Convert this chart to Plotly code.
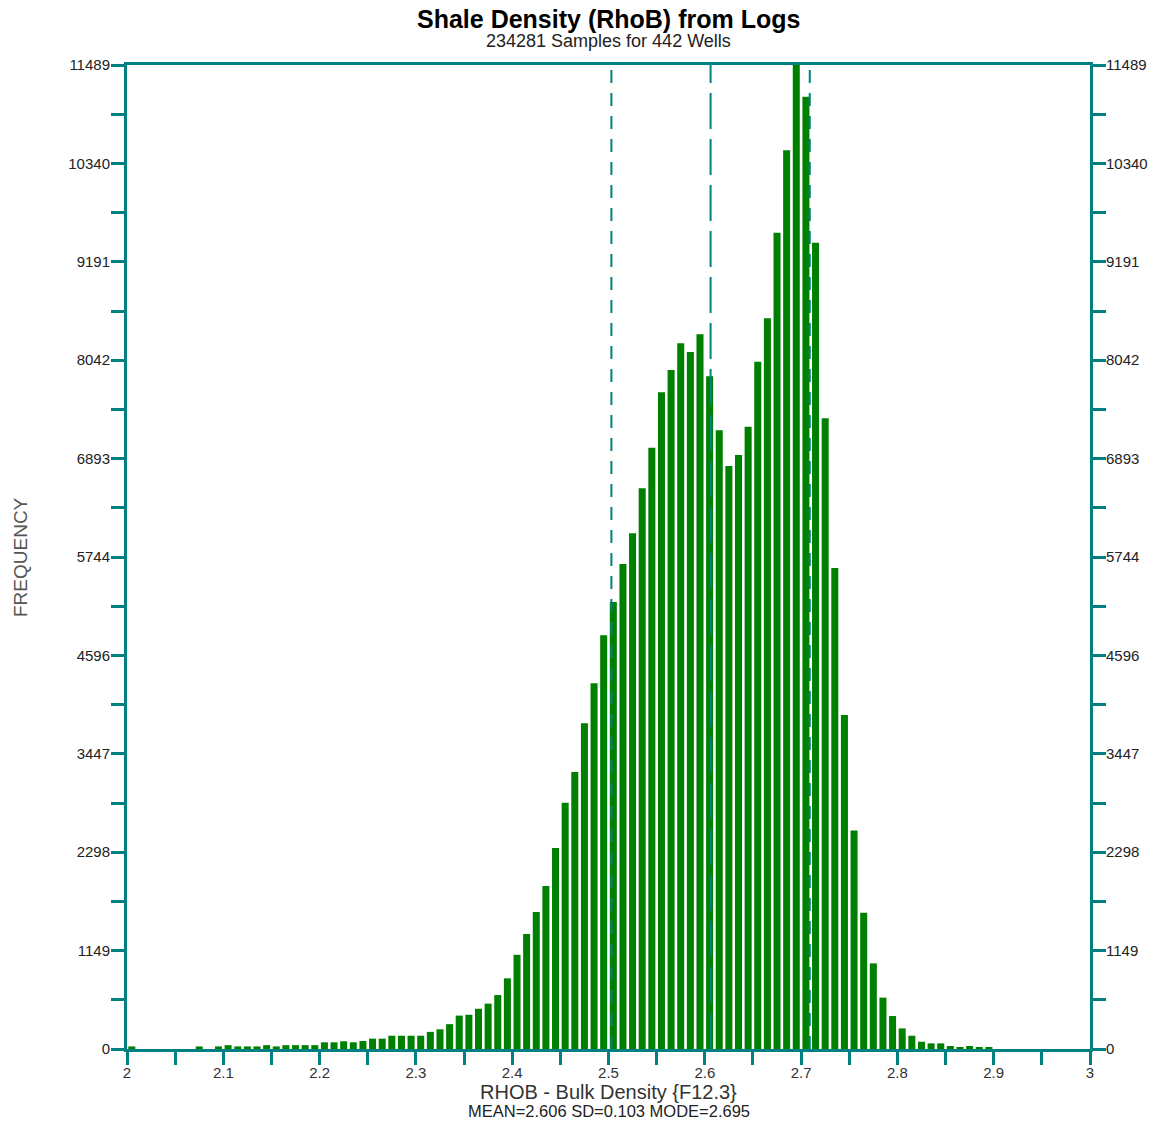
import numpy as np
import plotly.graph_objects as go

# Histogram of shale bulk density (RHOB), 0.01 g/cc bins from 2.00 to 3.00
bin_start = 2.0
bin_width = 0.01
counts = [
    30, 0, 0, 0, 0, 0, 0, 30, 0, 30,
    45, 30, 30, 30, 45, 30, 45, 45, 45, 45,
    78, 78, 90, 78, 93, 121, 121, 155, 155, 155,
    155, 200, 230, 290, 390, 400, 470, 530, 630, 825,
    1100, 1343, 1600, 1903, 2347, 2876, 3234, 3803, 4270, 4830,
    5219, 5663, 6021, 6547, 7021, 7668, 7928, 8240, 8138, 8345,
    7854, 7224, 6807, 6935, 7266, 8025, 8532, 9531, 10493, 11489,
    11119, 9415, 7364, 5616, 3900, 2550, 1590, 1000, 600, 385,
    240, 155, 85, 66, 66, 35, 20, 35, 20, 20,
    0, 0, 0, 0, 0, 0, 0, 0, 0, 0,
]

# Summary statistics
n_samples = 234281
n_wells = 442
mean_rhob = 2.606
sd_rhob = 0.103
mode_rhob = 2.695

# Axis scales and tick labels
x_range = [2.0, 3.0]
x_tick_labels = ["2", "2.1", "2.2", "2.3", "2.4", "2.5", "2.6", "2.7", "2.8", "2.9", "3"]
y_max = 11489
y_tick_labels = ["0", "1149", "2298", "3447", "4596", "5744",
                 "6893", "8042", "9191", "10340", "11489"]

TEAL = "#008080"
GREEN = "#008000"
FONT = "Liberation Sans, Arial, sans-serif"

centers = bin_start + bin_width * (np.arange(len(counts)) + 0.5)

# Major (labelled) and minor (unlabelled) tick positions
x_all = np.linspace(x_range[0], x_range[1], 2 * len(x_tick_labels) - 1)
x_text = []
for i in range(len(x_all)):
    x_text.append(x_tick_labels[i // 2] if i % 2 == 0 else "")

y_all = np.linspace(0, y_max, 2 * len(y_tick_labels) - 1)
y_text = []
for i in range(len(y_all)):
    y_text.append(y_tick_labels[i // 2] if i % 2 == 0 else "")

fig = go.Figure()
fig.add_trace(go.Bar(
    x=centers, y=counts,
    marker=dict(color=GREEN, line=dict(width=0)),
    showlegend=False, hoverinfo="x+y",
))
# placeholder so the right-hand frequency axis is rendered
fig.add_trace(go.Scatter(x=[None], y=[None], yaxis="y2", showlegend=False,
                         hoverinfo="skip"))

# Mean and +/- one standard deviation markers
for xv, dash in [(mean_rhob - sd_rhob, "13px,10px"),
                 (mean_rhob, "36px,10px"),
                 (mean_rhob + sd_rhob, "13px,10px")]:
    fig.add_shape(type="line", xref="x", yref="y", x0=xv, x1=xv, y0=0, y1=y_max,
                  line=dict(color=TEAL, width=2, dash=dash), layer="above")

axis_common = dict(
    showline=True, linecolor=TEAL, linewidth=3,
    ticks="outside", tickcolor=TEAL, tickwidth=2.5, ticklen=13,
    showgrid=False, zeroline=False,
)

fig.update_layout(
    width=1170, height=1127,
    margin=dict(l=127, r=80, t=65, b=78),
    paper_bgcolor="white", plot_bgcolor="white",
    bargap=0.27,
    font=dict(family=FONT, color="#222222"),
    xaxis=dict(
        range=x_range, tickmode="array", tickvals=x_all, ticktext=x_text,
        mirror=True, tickfont=dict(size=15, color="#333333"),
        ticklabelstandoff=-5,
        **axis_common,
    ),
    yaxis=dict(
        range=[0, y_max], tickmode="array", tickvals=y_all, ticktext=y_text,
        tickfont=dict(size=15, color="#222222"), ticklabelstandoff=-2,
        **axis_common,
    ),
    yaxis2=dict(
        range=[0, y_max], overlaying="y", side="right",
        tickmode="array", tickvals=y_all, ticktext=y_text,
        tickfont=dict(size=15, color="#222222"), ticklabelstandoff=-3,
        **axis_common,
    ),
)

annotations = [
    dict(text="<b>Shale Density (RhoB) from Logs</b>", x=0.5, y=1, yshift=46,
         font=dict(size=25, color="black", family=FONT), yanchor="middle"),
    dict(text=f"{n_samples} Samples for {n_wells} Wells", x=0.5, y=1, yshift=24,
         font=dict(size=18, color="#222222", family=FONT), yanchor="middle"),
    dict(text="RHOB - Bulk Density {F12.3}", x=0.5, y=0, yshift=-43,
         font=dict(size=20, color="#333333", family=FONT), yanchor="middle"),
    dict(text=f"MEAN={mean_rhob:.3f} SD={sd_rhob:.3f} MODE={mode_rhob:.3f}",
         x=0.5, y=0, yshift=-62,
         font=dict(size=16.5, color="#222222", family=FONT), yanchor="middle"),
    dict(text="FREQUENCY", x=0, y=0.5, xshift=-107, textangle=-90,
         font=dict(size=19, color="#555555", family=FONT),
         xanchor="center", yanchor="middle"),
]
for a in annotations:
    fig.add_annotation(xref="paper", yref="paper", showarrow=False, **a)

fig.write_html("out.html")
